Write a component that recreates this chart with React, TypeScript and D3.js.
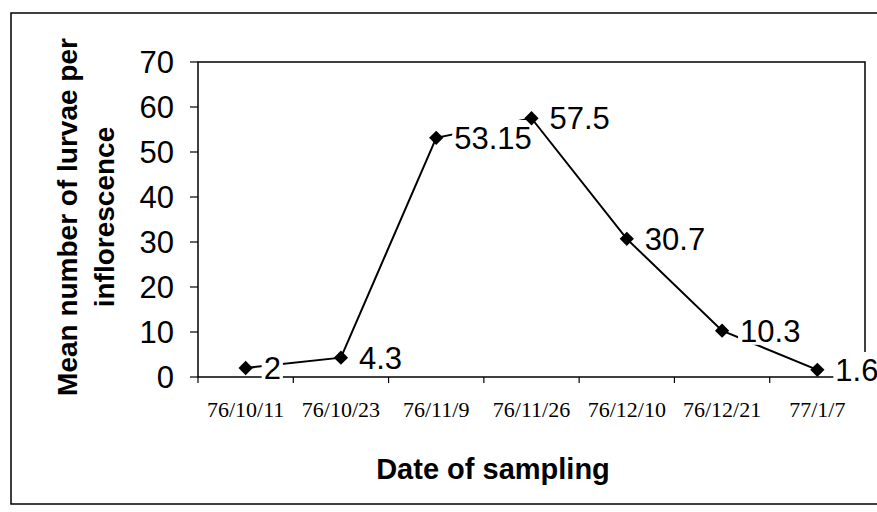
import React, { useEffect, useRef } from 'react';
import * as d3 from 'd3';

const dates = ['76/10/11', '76/10/23', '76/11/9', '76/11/26', '76/12/10', '76/12/21', '77/1/7'];
const larvae = [2, 4.3, 53.15, 57.5, 30.7, 10.3, 1.6];
const yTicks = [0, 10, 20, 30, 40, 50, 60, 70];

const W = 877;
const H = 512;

const App = () => {
  const svgRef = useRef<SVGSVGElement>(null);

  useEffect(() => {
    const svg = d3.select(svgRef.current);
    svg.selectAll('*').remove();

    const left = 198, right = 865, top = 62, bottom = 377;
    const x = d3.scaleBand().domain(dates).range([left, right]);
    const y = d3.scaleLinear().domain([0, 70]).range([bottom, top]);
    const cx = (d: string) => (x(d) as number) + x.bandwidth() / 2;

    // outer frame (chart area), right side runs off the picture
    svg.append('rect')
      .attr('x', 11).attr('y', 13)
      .attr('width', W + 10).attr('height', 491)
      .attr('fill', 'none').attr('stroke', '#000').attr('stroke-width', 1.5);

    // plot area frame
    svg.append('rect')
      .attr('x', left).attr('y', top)
      .attr('width', right - left).attr('height', bottom - top)
      .attr('fill', 'none').attr('stroke', '#000').attr('stroke-width', 1.5);

    // y axis ticks + labels
    const yAxis = svg.append('g');
    yAxis.selectAll('line').data(yTicks).enter().append('line')
      .attr('x1', left - 8).attr('x2', left)
      .attr('y1', d => y(d)).attr('y2', d => y(d))
      .attr('stroke', '#000').attr('stroke-width', 1.2);
    yAxis.selectAll('text').data(yTicks).enter().append('text')
      .attr('x', 174).attr('y', d => y(d))
      .attr('dy', '0.36em')
      .attr('text-anchor', 'end')
      .style('font-family', 'Liberation Sans, Arial, sans-serif')
      .style('font-size', '31px')
      .text(d => d);

    // x axis ticks between categories
    const bounds = dates.map(d => x(d) as number).concat([right]);
    svg.append('g').selectAll('line').data(bounds).enter().append('line')
      .attr('x1', d => d).attr('x2', d => d)
      .attr('y1', bottom).attr('y2', bottom + 6)
      .attr('stroke', '#000').attr('stroke-width', 1.2);
    svg.append('g').selectAll('text').data(dates).enter().append('text')
      .attr('x', d => cx(d)).attr('y', 417)
      .attr('text-anchor', 'middle')
      .style('font-family', 'Liberation Serif, Times New Roman, serif')
      .style('font-size', '22px')
      .text(d => d);

    // axis titles
    svg.append('text')
      .attr('x', 493).attr('y', 479)
      .attr('text-anchor', 'middle')
      .style('font-family', 'Liberation Sans, Arial, sans-serif')
      .style('font-weight', 'bold')
      .style('font-size', '29px')
      .text('Date of sampling');

    const yt = svg.append('text')
      .attr('transform', 'translate(77,217) rotate(-90)')
      .attr('text-anchor', 'middle')
      .style('font-family', 'Liberation Sans, Arial, sans-serif')
      .style('font-weight', 'bold')
      .style('font-size', '28px');
    yt.append('tspan').attr('x', 0).attr('y', 0).text('Mean number of lurvae per');
    yt.append('tspan').attr('x', 0).attr('y', 37).text('inflorescence');

    // series line
    const line = d3.line<number>()
      .x((_, i) => cx(dates[i]))
      .y(d => y(d));
    svg.append('path')
      .datum(larvae)
      .attr('d', line)
      .attr('fill', 'none')
      .attr('stroke', '#000')
      .attr('stroke-width', 2);

    // data labels, white box hides the line behind them
    const labels = svg.append('g');
    larvae.forEach((v, i) => {
      const g = labels.append('g');
      const bg = g.append('rect').attr('fill', '#fff');
      const t = g.append('text')
        .attr('x', cx(dates[i]) + 18)
        .attr('y', y(v))
        .attr('dy', '0.36em')
        .style('font-family', 'Liberation Sans, Arial, sans-serif')
        .style('font-size', '31px')
        .text(v);
      const b = (t.node() as SVGTextElement).getBBox();
      bg.attr('x', b.x - 2).attr('y', b.y - 1)
        .attr('width', b.width + 4).attr('height', b.height - 3);
    });

    // markers
    svg.append('g').selectAll('path').data(larvae).enter().append('path')
      .attr('transform', (d, i) => `translate(${cx(dates[i])},${y(d)})`)
      .attr('d', d3.symbol().type(d3.symbolDiamond2).size(130)())
      .attr('fill', '#000');
  }, []);

  return (
    <div style={{ position: 'absolute', left: 0, top: 0, background: '#fff' }}>
      <svg ref={svgRef} width={W} height={H} style={{ display: 'block' }}></svg>
    </div>
  );
};

export default App;
